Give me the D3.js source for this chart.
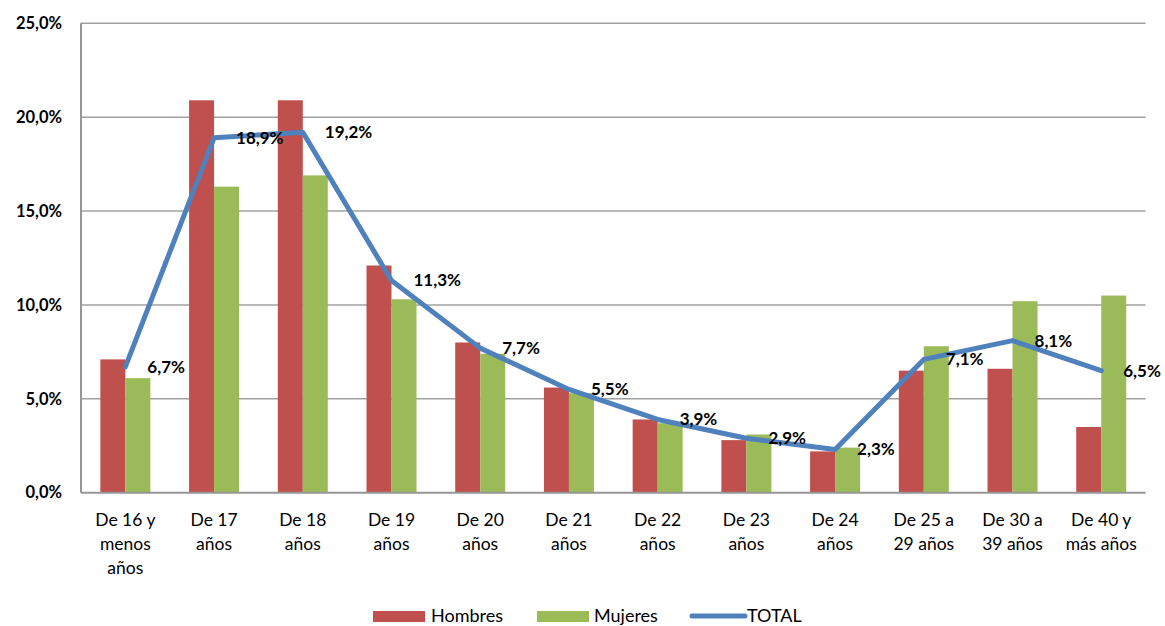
<!DOCTYPE html>
<html>
<head>
<meta charset="utf-8">
<script src="https://cdn.jsdelivr.net/npm/d3@7"></script>
<style>
  html, body { margin: 0; padding: 0; background: #fff; }
  svg { display: block; font-family: Lato, "Open Sans", sans-serif; }
</style>
</head>
<body>
<svg id="chart" width="1165" height="626"></svg>
<script>
const categories = ["De 16 y\nmenos\naños", "De 17\naños", "De 18\naños", "De 19\naños", "De 20\naños", "De 21\naños", "De 22\naños", "De 23\naños", "De 24\naños", "De 25 a\n29 años", "De 30 a\n39 años", "De 40 y\nmás años"];
const hombres = [7.1, 20.9, 20.9, 12.1, 8.0, 5.6, 3.9, 2.8, 2.2, 6.5, 6.6, 3.5];
const mujeres = [6.1, 16.3, 16.9, 10.3, 7.4, 5.3, 3.7, 3.1, 2.4, 7.8, 10.2, 10.5];
const total = [6.7, 18.9, 19.2, 11.3, 7.7, 5.5, 3.9, 2.9, 2.3, 7.1, 8.1, 6.5];
const yTicks = [0, 5, 10, 15, 20, 25];
const seriesNames = ["Hombres", "Mujeres", "TOTAL"];
const colors = { Hombres: "#C0504D", Mujeres: "#9BBB59", TOTAL: "#4F81BD" };

const svg = d3.select("#chart");
const pLeft = 81, pRight = 1145.6, pTop = 23.3, pBottom = 492.7;
const fmt = v => d3.format(".1f")(v).replace(".", ",") + "%";

const x = d3.scaleBand().domain(categories).range([pLeft, pRight]).padding(0);
const y = d3.scaleLinear().domain([0, 25]).range([pBottom, pTop]);
const barW = 25;
const inner = d3.scaleBand().domain(["Hombres", "Mujeres"]).range([0, 2 * barW]);
const off = (x.bandwidth() - 2 * barW) / 2;

// gridlines
svg.append("g").selectAll("line").data(yTicks.filter(d => d > 0)).join("line")
  .attr("x1", pLeft).attr("x2", pRight)
  .attr("y1", d => y(d)).attr("y2", d => y(d))
  .attr("stroke", "#a0a0a0").attr("stroke-width", 1.5);

// y axis labels
const yAxis = d3.axisLeft(y).tickValues(yTicks).tickSize(0).tickPadding(19).tickFormat(fmt);
const gy = svg.append("g").attr("transform", `translate(${pLeft},0)`).call(yAxis);
gy.select(".domain").remove();
gy.selectAll("text").attr("font-size", 16.5).attr("font-weight", "bold").attr("fill", "#000")
  .attr("font-family", "Lato, sans-serif");

// bars
const groups = [["Hombres", hombres], ["Mujeres", mujeres]];
groups.forEach(([name, vals]) => {
  svg.append("g").selectAll("rect").data(vals).join("rect")
    .attr("x", (d, i) => x(categories[i]) + off + inner(name))
    .attr("y", d => y(d))
    .attr("width", barW)
    .attr("height", d => y(0) - y(d))
    .attr("fill", colors[name]);
});

// axes lines
svg.append("line").attr("x1", pLeft).attr("x2", pLeft).attr("y1", pTop).attr("y2", pBottom)
  .attr("stroke", "#969696").attr("stroke-width", 2);
svg.append("line").attr("x1", pLeft).attr("x2", pRight).attr("y1", pBottom).attr("y2", pBottom)
  .attr("stroke", "#969696").attr("stroke-width", 2);

// x labels
const gx = svg.append("g");
categories.forEach(c => {
  const t = gx.append("text").attr("text-anchor", "middle").attr("font-size", 17.5).attr("fill", "#000")
    .attr("font-family", "Lato, sans-serif");
  c.split("\n").forEach((ln, k) => {
    t.append("tspan").attr("x", x(c) + x.bandwidth() / 2).attr("y", 526 + k * 24).text(ln);
  });
});

// total line
const line = d3.line().x((d, i) => x(categories[i]) + x.bandwidth() / 2).y(d => y(d));
svg.append("path").datum(total).attr("d", line).attr("fill", "none")
  .attr("stroke", colors.TOTAL).attr("stroke-width", 5).attr("stroke-linejoin", "round").attr("stroke-linecap", "round");

// data labels
svg.append("g").selectAll("text").data(total).join("text")
  .attr("x", (d, i) => x(categories[i]) + x.bandwidth() / 2 + 22)
  .attr("y", d => y(d))
  .attr("dy", "0.35em")
  .attr("font-size", 17).attr("font-weight", "bold").attr("fill", "#000")
  .text(d => fmt(d));

// legend
const lg = svg.append("g").attr("font-size", 18).attr("fill", "#000");
lg.append("rect").attr("x", 373).attr("y", 611).attr("width", 52).attr("height", 11).attr("fill", colors.Hombres);
lg.append("text").attr("x", 431).attr("y", 622).text(seriesNames[0]);
lg.append("rect").attr("x", 537).attr("y", 611).attr("width", 52).attr("height", 11).attr("fill", colors.Mujeres);
lg.append("text").attr("x", 594).attr("y", 622).text(seriesNames[1]);
lg.append("line").attr("x1", 692).attr("x2", 745).attr("y1", 616).attr("y2", 616)
  .attr("stroke", colors.TOTAL).attr("stroke-width", 5).attr("stroke-linecap", "round");
lg.append("text").attr("x", 747).attr("y", 622).text(seriesNames[2]);
</script>
</body>
</html>
